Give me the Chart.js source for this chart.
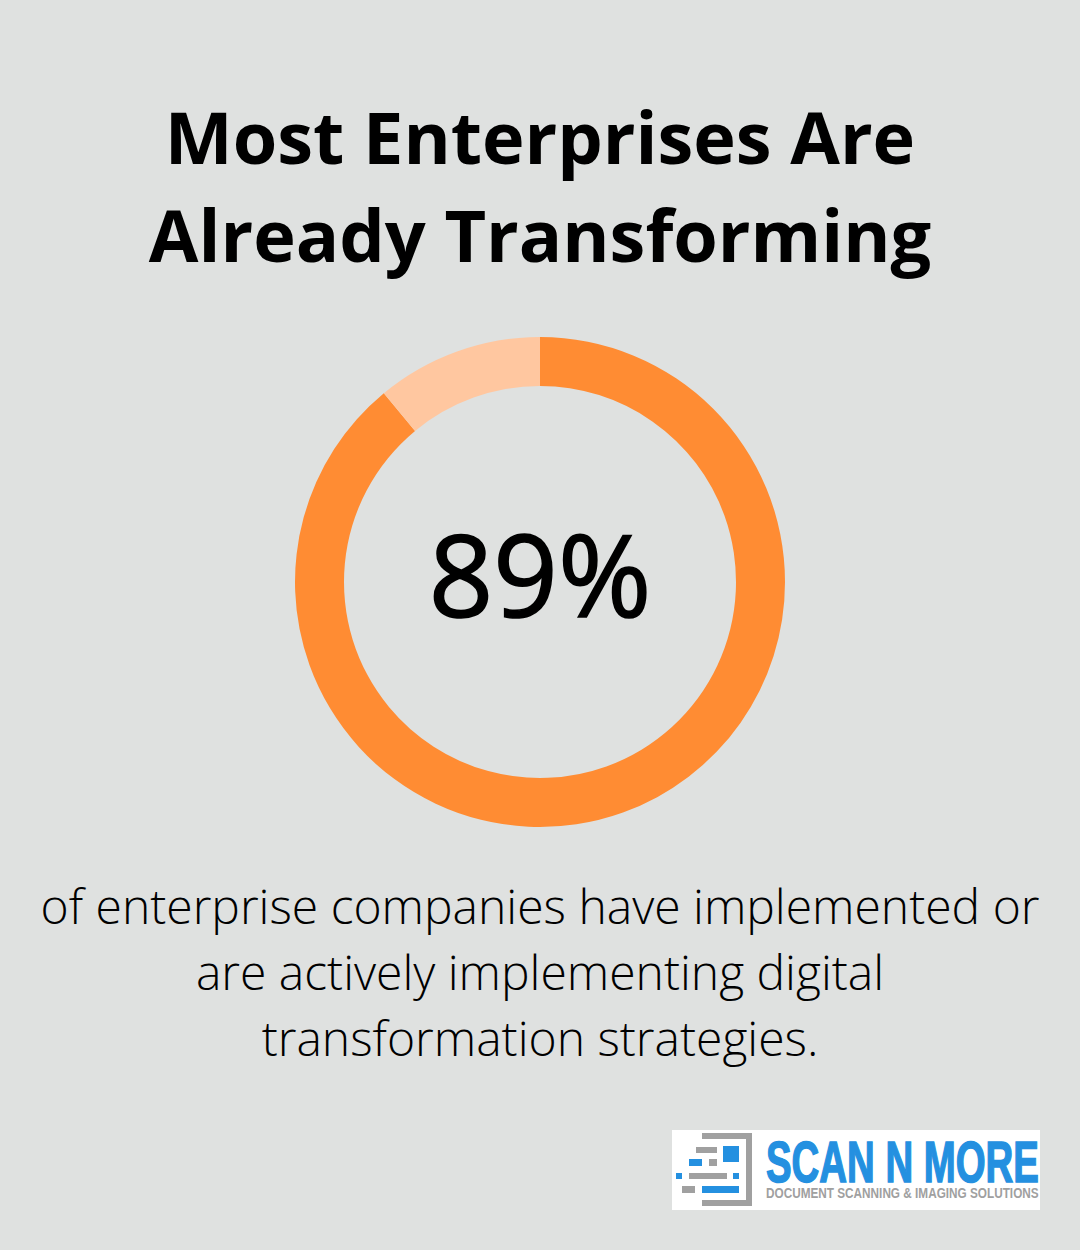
<!DOCTYPE html>
<html><head><meta charset="utf-8">
<script src="https://cdn.jsdelivr.net/npm/chart.js@4"></script>
<style>
html,body{margin:0;padding:0;background:#dfe1e0;width:1080px;height:1250px;overflow:hidden;font-family:"Open Sans",sans-serif;color:#000}
.t{position:absolute;left:0;width:1080px;text-align:center;white-space:nowrap}
#title div{font-weight:700;font-size:72px;line-height:98px}
#title{position:absolute;left:0;top:87px;width:1080px;text-align:center}
#cw{position:absolute;left:290px;top:332px;width:500px;height:500px}
#pct{top:503px;font-size:113px;line-height:140px;font-weight:400;-webkit-text-stroke:1.6px #000}
#cap{position:absolute;left:0;top:873px;width:1080px;text-align:center;font-weight:300;font-size:48px;line-height:66px}
#logo{position:absolute;left:672px;top:1130px;width:368px;height:80px;background:#fff;overflow:hidden}
</style></head><body>
<div id="title"><div>Most Enterprises Are</div><div>Already Transforming</div></div>
<div id="cw"><canvas id="c" width="500" height="500"></canvas></div>
<div class="t" id="pct">89%</div>
<div id="cap">of enterprise companies have implemented or<br>are actively implementing digital<br>transformation strategies.</div>
<div id="logo">
<svg width="368" height="80" style="position:absolute;left:0;top:0">
<path d="M30 3H80V76H30V70H74V9H30Z" fill="#a0a0a0"/>
<rect x="51" y="16" width="16" height="16" fill="#2490e0"/>
<rect x="24" y="17" width="21" height="6" fill="#a0a0a0"/>
<rect x="17" y="29" width="13" height="7" fill="#2490e0"/>
<rect x="37" y="29" width="8" height="7" fill="#a0a0a0"/>
<rect x="4" y="43" width="6" height="6" fill="#2490e0"/>
<rect x="17" y="43" width="38" height="6" fill="#a0a0a0"/>
<rect x="61" y="43" width="6" height="6" fill="#2490e0"/>
<rect x="10" y="56" width="13" height="7" fill="#a0a0a0"/>
<rect x="30" y="56" width="37" height="7" fill="#2490e0"/>
<text id="l1" font-family="Liberation Sans" font-weight="700" font-size="57" fill="#2490e0" stroke="#2490e0" stroke-width="1.5">SCAN N MORE</text>
<text id="l2" font-family="Liberation Sans" font-weight="700" font-size="15.5" fill="#a0a0a0">DOCUMENT SCANNING &amp; IMAGING SOLUTIONS</text>
</svg>
</div>
<script>
const labels=["Implemented or implementing","Other"];
const values=[89,11];
const colors=["#ff8c33","#ffc7a0"];
new Chart(document.getElementById('c'),{type:'doughnut',data:{labels,datasets:[{data:values,backgroundColor:colors,borderWidth:0}]},
options:{responsive:false,animation:false,cutout:'80%',layout:{padding:5},plugins:{legend:{display:false},tooltip:{enabled:false}}}});
function fit(id,x,y,w){const e=document.getElementById(id);e.setAttribute('transform','translate('+x+','+y+') scale('+(w/e.getComputedTextLength())+',1)');}
fit('l1',94,52,273);fit('l2',94,68,273);
</script>
</body></html>
